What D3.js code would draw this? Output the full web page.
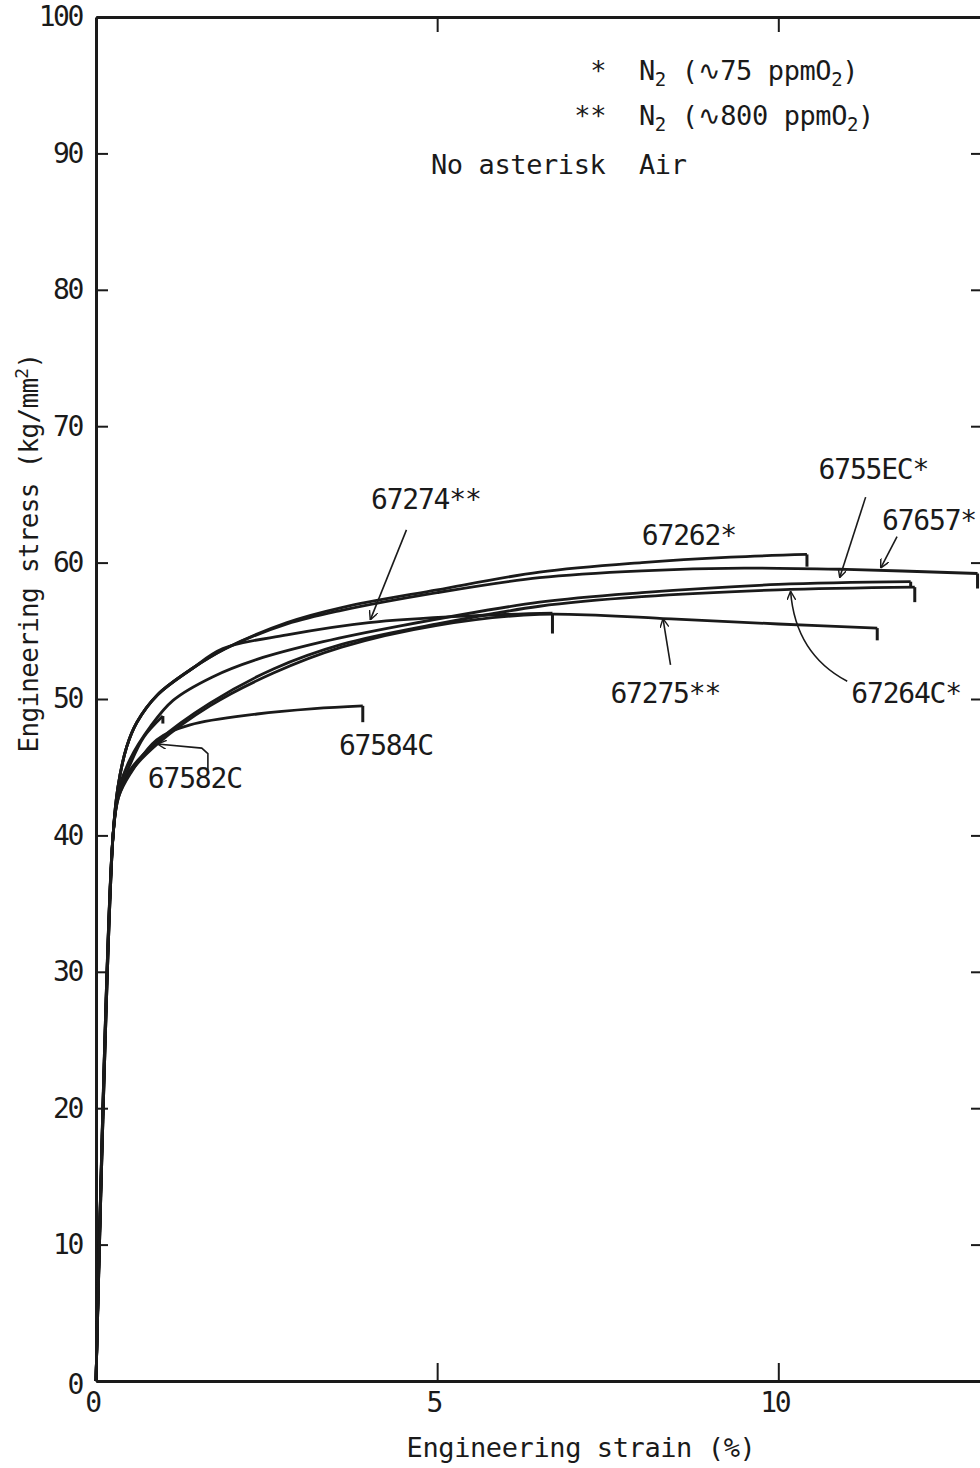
<!DOCTYPE html>
<html>
<head>
<meta charset="utf-8">
<script src="https://cdn.jsdelivr.net/npm/d3@7"></script>
<style>
  body { margin: 0; background: #fff; }
  text { font-family: "DejaVu Sans Mono", monospace; fill: #1a1a1a; }
</style>
</head>
<body>
<script>
// tick values
var xTicks = [0, 5, 10];
var yTicks = [0, 10, 20, 30, 40, 50, 60, 70, 80, 90, 100];

// curves: [strain %, stress kg/mm2]
var c67262 = [[0,0],[0.25,40],[0.32,43.5],[0.45,46.5],[0.6,48.3],[0.9,50.3],[1.4,52.2],[1.9,53.7],[2.8,55.6],[3.6,56.7],[5,58.0],[6.5,59.3],[8,60.0],[9.3,60.4],[10.42,60.6]];
var c67657 = [[0,0],[0.25,40],[0.32,43.5],[0.45,46.5],[0.6,48.3],[0.9,50.3],[1.4,52.2],[1.9,53.7],[2.8,55.5],[3.6,56.5],[5,57.8],[6.5,58.9],[8,59.4],[9.5,59.6],[11,59.5],[12.92,59.2]];
var c67274 = [[0,0],[0.25,40],[0.32,43.5],[0.45,46.5],[0.6,48.3],[0.9,50.3],[1.4,52.2],[1.86,53.7],[2.8,54.7],[4,55.6],[5.5,56.1],[6.69,56.3]];
var c6755E = [[0,0],[0.25,40],[0.33,43.3],[0.5,45.6],[0.8,48.0],[1.13,49.9],[1.7,51.6],[2.36,52.9],[3.33,54.2],[4.5,55.4],[6.5,57.1],[8,57.8],[10,58.4],[11.94,58.6]];
var c67264 = [[0,0],[0.25,40],[0.33,43],[0.5,44.8],[0.9,46.9],[1.67,49.7],[2.6,52.2],[3.6,54.0],[5,55.5],[6.5,56.8],[8,57.5],[10,58.0],[12.0,58.2]];
var c67275 = [[0,0],[0.25,40],[0.33,42.8],[0.5,44.6],[0.9,46.7],[1.67,49.5],[2.6,51.9],[3.6,53.8],[5,55.4],[6.5,56.2],[8.31,55.9],[10,55.5],[11.45,55.2]];
var c67582 = [[0,0],[0.25,40],[0.33,43],[0.5,45.2],[0.7,47.2],[0.98,48.75]];
var c67584 = [[0,0],[0.25,40],[0.33,42.8],[0.5,44.5],[0.89,47.0],[1.38,48.1],[2.36,48.9],[3.2,49.3],[3.91,49.5]];

var curveIds = ["67262*", "67657*", "67274**", "6755EC*", "67264C*", "67275**", "67582C", "67584C"];
var curvePts = [c67262, c67657, c67274, c6755E, c67264, c67275, c67582, c67584];
// stress reached after the fracture drop
var dropStress = [59.7, 58.1, 54.8, 58.2, 57.1, 54.3, 48.2, 48.3];

// label anchors and arrows (data units)
var labelAt   = [[8.0,61.3],[11.52,62.4],[4.03,63.9],[10.59,66.1],[11.07,49.7],[7.54,49.7],[0.76,43.5],[3.56,45.9]];
var arrowFrom = [null,[11.74,61.9],[4.55,62.4],[11.28,64.8],null,[8.42,52.5],null,null];
var arrowTo   = [null,[11.5,59.6],[4.02,55.8],[10.9,58.9],null,[8.31,55.9],null,null];

var width = 980, height = 1468;

var svg = d3.select("body").append("svg")
  .attr("width", width)
  .attr("height", height);

var xScale = d3.scaleLinear().domain([0, 13]).range([96, 983]);
var yScale = d3.scaleLinear().domain([0, 100]).range([1381, 17]);

svg.append("defs").append("marker")
  .attr("id", "arr")
  .attr("viewBox", "0 0 10 10")
  .attr("refX", 10).attr("refY", 5)
  .attr("markerWidth", 9).attr("markerHeight", 9)
  .attr("markerUnits", "userSpaceOnUse")
  .attr("orient", "auto")
  .append("path")
  .attr("d", "M0,0 L10,5 L0,10")
  .attr("fill", "none")
  .attr("stroke", "#1a1a1a")
  .attr("stroke-width", 1.6);

// axes
var leftAxis = d3.axisLeft(yScale).tickValues(yTicks).tickSize(-12).tickSizeOuter(0).tickPadding(14);
var rightAxis = d3.axisRight(yScale).tickValues(yTicks.slice(1, 10)).tickSize(-12).tickSizeOuter(0).tickFormat("");
var bottomAxis = d3.axisBottom(xScale).tickValues(xTicks).tickSize(-18).tickSizeOuter(0).tickPadding(11);
var topAxis = d3.axisTop(xScale).tickValues([5, 10]).tickSize(-15).tickSizeOuter(0).tickFormat("");

var gL = svg.append("g").attr("transform", "translate(96,0)").call(leftAxis);
var gR = svg.append("g").attr("transform", "translate(983,0)").call(rightAxis);
var gB = svg.append("g").attr("transform", "translate(0,1381)").call(bottomAxis);
var gT = svg.append("g").attr("transform", "translate(0,17)").call(topAxis);

[gL, gR, gB, gT].forEach(function(g) {
  g.select(".domain").attr("stroke", "#1a1a1a").attr("stroke-width", 3);
  g.selectAll(".tick line").attr("stroke", "#1a1a1a").attr("stroke-width", 2);
  g.selectAll("text").attr("font-family", "DejaVu Sans Mono").attr("font-size", 28)
    .attr("letter-spacing", -2.4).attr("fill", "#1a1a1a");
});
gB.selectAll(".tick line").filter(function(d) { return d === 0; }).remove();
gB.selectAll(".tick text").attr("dx", -4);
gL.selectAll(".tick text").filter(function(d) { return d === 0; }).attr("dy", "0.45em");

// curves
var line = d3.line()
  .x(function(d) { return xScale(d[0]); })
  .y(function(d) { return yScale(d[1]); })
  .curve(d3.curveCatmullRom.alpha(0.5));

var cg = svg.append("g");
curvePts.forEach(function(pts, i) {
  cg.append("path")
    .attr("d", line(pts))
    .attr("fill", "none")
    .attr("stroke", "#1a1a1a")
    .attr("stroke-width", 2.8)
    .attr("stroke-linejoin", "round");
  var last = pts[pts.length - 1];
  cg.append("line")
    .attr("x1", xScale(last[0])).attr("y1", yScale(last[1]))
    .attr("x2", xScale(last[0])).attr("y2", yScale(dropStress[i]))
    .attr("stroke", "#1a1a1a")
    .attr("stroke-width", 3);
});

// labels
var ag = svg.append("g");
curveIds.forEach(function(id, i) {
  ag.append("text")
    .attr("x", xScale(labelAt[i][0]))
    .attr("y", yScale(labelAt[i][1]))
    .attr("font-size", 28)
    .attr("letter-spacing", -1.2)
    .text(id);
  if (arrowFrom[i]) {
    ag.append("line")
      .attr("x1", xScale(arrowFrom[i][0])).attr("y1", yScale(arrowFrom[i][1]))
      .attr("x2", xScale(arrowTo[i][0])).attr("y2", yScale(arrowTo[i][1]))
      .attr("stroke", "#1a1a1a").attr("stroke-width", 1.6)
      .attr("marker-end", "url(#arr)");
  }
});

// curved arrow for 67264C*
ag.append("path")
  .attr("d", "M" + xScale(11.01) + "," + yScale(51.3) +
             " Q" + xScale(10.25) + "," + yScale(53.3) + " " + xScale(10.18) + "," + yScale(57.9))
  .attr("fill", "none").attr("stroke", "#1a1a1a").attr("stroke-width", 1.6)
  .attr("marker-end", "url(#arr)");

// bracket leader for 67582C
ag.append("path")
  .attr("d", "M" + xScale(1.64) + "," + yScale(44.8) +
             " L" + xScale(1.64) + "," + yScale(46.0) +
             " L" + xScale(1.55) + "," + yScale(46.4) +
             " L" + xScale(0.9) + "," + yScale(46.7))
  .attr("fill", "none").attr("stroke", "#1a1a1a").attr("stroke-width", 1.6)
  .attr("marker-end", "url(#arr)");

// legend
var lg = svg.append("g").attr("font-size", 27).attr("letter-spacing", -0.4);
function n2(t, x, y, rest) {
  var tx = lg.append("text").attr("x", x).attr("y", y).attr("font-size", 27).attr("letter-spacing", -0.4);
  tx.append("tspan").text("N");
  tx.append("tspan").attr("font-size", 19).attr("dy", 6).text("2");
  tx.append("tspan").attr("dy", -6).text(" (\u223F" + rest + " ppmO");
  tx.append("tspan").attr("font-size", 19).attr("dy", 6).text("2");
  tx.append("tspan").attr("dy", -6).text(")");
}
lg.append("text").attr("x", 606).attr("y", 80).attr("text-anchor", "end").attr("font-size", 27).text("*");
n2("", 639, 80, "75");
lg.append("text").attr("x", 606).attr("y", 125).attr("text-anchor", "end").attr("font-size", 27).text("**");
n2("", 639, 125, "800");
lg.append("text").attr("x", 431).attr("y", 174).attr("font-size", 27).attr("letter-spacing", -0.4).text("No asterisk");
lg.append("text").attr("x", 639).attr("y", 174).attr("font-size", 27).attr("letter-spacing", -0.4).text("Air");

// axis titles
svg.append("text")
  .attr("x", 581).attr("y", 1457)
  .attr("text-anchor", "middle")
  .attr("font-size", 27).attr("letter-spacing", -0.4)
  .text("Engineering strain (%)");

var yt = svg.append("text")
  .attr("transform", "translate(38,553) rotate(-90)")
  .attr("text-anchor", "middle")
  .attr("font-size", 26).attr("letter-spacing", -0.7);
yt.append("tspan").text("Engineering stress (kg/mm");
yt.append("tspan").attr("font-size", 18).attr("dy", -10).text("2");
yt.append("tspan").attr("dy", 10).text(")");
</script>
</body>
</html>
